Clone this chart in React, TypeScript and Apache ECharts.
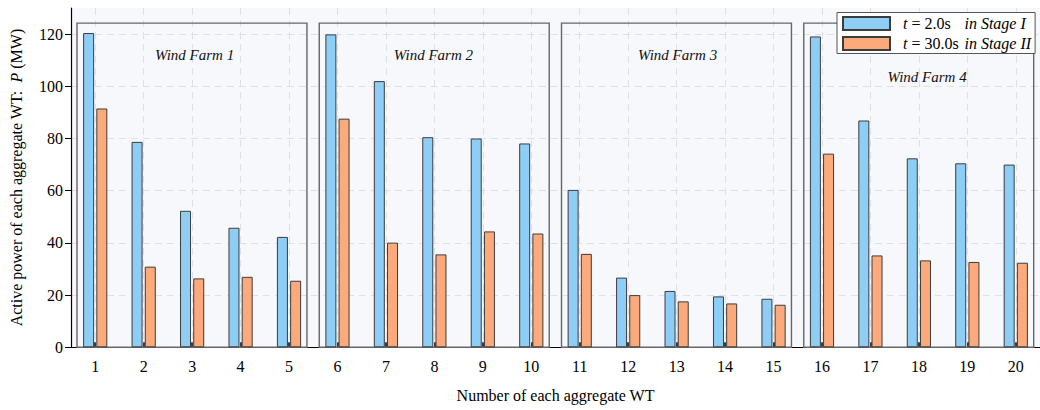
import React, { useEffect, useRef } from 'react';
import * as echarts from 'echarts';

const categories = ['1', '2', '3', '4', '5', '6', '7', '8', '9', '10', '11', '12', '13', '14', '15', '16', '17', '18', '19', '20'];
const stageI = [120.4, 78.7, 52.3, 45.8, 42.3, 119.9, 102.0, 80.5, 80.0, 78.1, 60.3, 26.7, 21.6, 19.5, 18.6, 119.1, 86.9, 72.4, 70.5, 70.0];
const stageII = [91.5, 30.9, 26.4, 27.0, 25.5, 87.6, 40.1, 35.6, 44.4, 43.6, 35.8, 20.0, 17.6, 16.8, 16.3, 74.2, 35.2, 33.3, 32.7, 32.4];
const farmNames = ['Wind Farm 1', 'Wind Farm 2', 'Wind Farm 3', 'Wind Farm 4'];
const farmFirstWT = [1, 6, 11, 16];
const farmLastWT = [5, 10, 15, 20];
const yTickValues = [0, 20, 40, 60, 80, 100, 120];

const SERIF = 'Liberation Serif';
const BLUE = '#8ecdf6';
const ORANGE = '#fcaa7b';
const BAR_BORDER = '#3c3c3c';

// layout constants for the farm boxes/labels (not data)
const BOX_TOP = 124.2;
const LABEL_ANCHORS: [number, number][] = [[0.05, 112], [-0.02, 112], [0.02, 112], [0.17, 103.5]];

export default function App() {
  const ref = useRef<HTMLDivElement>(null);
  useEffect(() => {
    if (!ref.current) return;
    const chart = echarts.init(ref.current, undefined, { renderer: 'svg' });
    const farmData = farmNames.map((n, i) => [farmFirstWT[i] - 1, farmLastWT[i] - 1, i]);
    const option: any = {
      animation: false,
      backgroundColor: '#ffffff',
      textStyle: { fontFamily: SERIF },
      grid: {
        left: 71,
        top: 8,
        width: 974,
        height: 339.3,
        show: true,
        backgroundColor: '#f7f8fc',
        borderWidth: 0,
        containLabel: false,
      },
      legend: {
        data: ['s1', 's2'],
        orient: 'vertical',
        left: 837,
        top: 12.5,
        icon: 'rect',
        itemWidth: 47,
        itemHeight: 13,
        itemGap: 4,
        padding: [3, 4, 2, 5],
        backgroundColor: '#ffffff',
        borderColor: '#555555',
        borderWidth: 1,
        borderRadius: 0,
        formatter: (name: string) =>
          name === 's1'
            ? '{t|t}{a| = 2.0s}{b|in Stage I}'
            : '{t|t}{a| = 30.0s}{b|in Stage II}',
        textStyle: {
          fontFamily: SERIF,
          fontSize: 16,
          color: '#000',
          rich: {
            t: { fontFamily: SERIF, fontSize: 16, fontStyle: 'italic', fontWeight: 'normal', padding: [0, 0, 0, 8] },
            a: { fontFamily: SERIF, fontSize: 16, fontWeight: 'normal', width: 57 },
            b: { fontFamily: SERIF, fontSize: 16, fontStyle: 'italic', fontWeight: 'normal' },
          },
        },
      },
      xAxis: [
        {
          type: 'category',
          data: categories,
          boundaryGap: true,
          name: 'Number of each aggregate WT',
          nameLocation: 'middle',
          nameGap: 40,
          nameTextStyle: { fontFamily: SERIF, fontSize: 16, color: '#000' },
          axisLine: { show: true, lineStyle: { color: '#000', width: 1.2 } },
          axisTick: { show: true, inside: true, length: 5, alignWithLabel: true, lineStyle: { color: '#000', width: 1.5 } },
          axisLabel: { fontFamily: SERIF, fontSize: 16, color: '#000', margin: 11 },
          splitLine: { show: true, alignWithLabel: true, lineStyle: { color: '#dfe0e6', type: [7, 5], width: 1 } },
        },
      ],
      yAxis: {
        type: 'value',
        min: 0,
        max: 130,
        interval: 20,
        name: 'Active power of each aggregate WT:  {i|P} (MW)',
        nameLocation: 'middle',
        nameGap: 47,
        nameRotate: 90,
        nameTextStyle: {
          fontFamily: SERIF,
          fontSize: 16,
          color: '#000',
          rich: { i: { fontFamily: SERIF, fontSize: 16, fontStyle: 'italic' } },
        },
        axisLine: { show: true, lineStyle: { color: '#000', width: 1.2 } },
        axisTick: { show: true, inside: false, length: 6, customValues: yTickValues, lineStyle: { color: '#000' } },
        axisLabel: { fontFamily: SERIF, fontSize: 16, color: '#000', margin: 8, customValues: yTickValues },
        splitLine: { show: true, lineStyle: { color: '#dfe0e6', type: [7, 5], width: 1 } },
      },
      series: [
        {
          type: 'custom',
          name: 'farms',
          z: 1,
          silent: true,
          data: farmData,
          renderItem: (params: any, api: any) => {
            const first = api.value(0);
            const last = api.value(1);
            const idx = api.value(2);
            const bw = api.size([1, 0])[0];
            const p0 = api.coord([first, BOX_TOP]);
            const p1 = api.coord([last, 0]);
            const x0 = p0[0] - 0.376 * bw;
            const x1 = p1[0] + 0.37 * bw;
            const mid = (first + last) / 2;
            const anchor = LABEL_ANCHORS[idx];
            const lp = api.coord([mid, anchor[1]]);
            const lx = lp[0] + anchor[0] * bw;
            return {
              type: 'group',
              children: [
                {
                  type: 'rect',
                  shape: { x: x0, y: p0[1], width: x1 - x0, height: p1[1] - p0[1] },
                  style: { fill: 'none', stroke: '#666666', lineWidth: 1.4 },
                },
                {
                  type: 'text',
                  x: lx,
                  y: lp[1],
                  style: {
                    text: farmNames[idx],
                    font: 'italic normal 15px Liberation Serif',
                    fill: '#111',
                    align: 'center',
                    verticalAlign: 'middle',
                  },
                },
              ],
            };
          },
        },
        {
          type: 'bar',
          name: 's1',
          data: stageI,
          barWidth: 11,
          barGap: '20%',
          z: 3,
          itemStyle: { color: BLUE, borderColor: BAR_BORDER, borderWidth: 1 },
        },
        {
          type: 'bar',
          name: 's2',
          data: stageII,
          barWidth: 11,
          barGap: '20%',
          z: 3,
          itemStyle: { color: ORANGE, borderColor: BAR_BORDER, borderWidth: 1 },
        },
      ],
    };
    chart.setOption(option);
    return () => chart.dispose();
  }, []);
  return (
    <div
      ref={ref}
      style={{ position: 'fixed', left: 0, top: 0, width: 1040, height: 410 }}
    />
  );
}
